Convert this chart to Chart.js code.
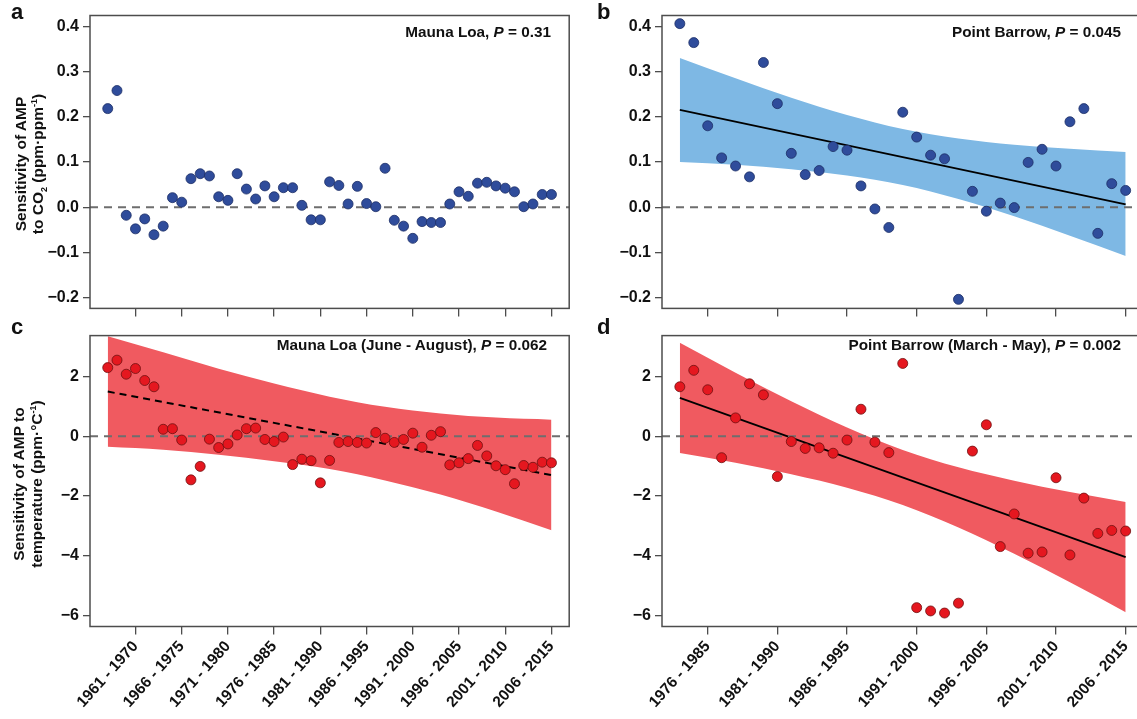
<!DOCTYPE html>
<html>
<head>
<meta charset="utf-8">
<script src="https://cdn.jsdelivr.net/npm/chart.js@4.4.1/dist/chart.umd.min.js"></script>
<style>
  html, body { margin: 0; padding: 0; background: #fff; overflow: hidden; width: 1137px; height: 719px; }
  body { position: relative; font-family: Arial, "Liberation Sans", Helvetica, sans-serif; color: #111; }
  canvas { position: absolute; }
  .letter { position: absolute; font-weight: bold; font-size: 22px; line-height: 1; }
  .note { position: absolute; font-weight: bold; font-size: 15.3px; line-height: 1; white-space: nowrap; transform: translateX(-100%); }
  .ytitle { position: absolute; font-weight: bold; font-size: 15.5px; line-height: 17px; text-align: center; white-space: nowrap;
            transform: translate(-50%, -50%) rotate(-90deg); }
  .ytitle sub, .ytitle sup { font-size: 9px; line-height: 0; }
</style>
</head>
<body>
<canvas id="panelA" width="575" height="322" style="left:0;top:0"></canvas>
<canvas id="panelB" width="575" height="322" style="left:575px;top:0"></canvas>
<canvas id="panelC" width="575" height="397" style="left:0;top:322px"></canvas>
<canvas id="panelD" width="575" height="397" style="left:575px;top:322px"></canvas>

<div class="letter" style="left:11px;top:1px">a</div>
<div class="letter" style="left:597px;top:1px">b</div>
<div class="letter" style="left:11px;top:316px">c</div>
<div class="letter" style="left:597px;top:316px">d</div>

<div class="note" style="left:551px;top:23.5px">Mauna Loa, <i>P</i> = 0.31</div>
<div class="note" style="left:1121px;top:23.5px">Point Barrow, <i>P</i> = 0.045</div>
<div class="note" style="left:547px;top:336.5px">Mauna Loa (June - August), <i>P</i> = 0.062</div>
<div class="note" style="left:1121px;top:336.5px">Point Barrow (March - May), <i>P</i> = 0.002</div>

<div class="ytitle" style="left:29px;top:164px">Sensitivity of AMP<br>to CO<sub>2</sub> (ppm·ppm<sup>-1</sup>)</div>
<div class="ytitle" style="left:28px;top:484px;line-height:18px">Sensitivity of AMP to<br>temperature (ppm·°C<sup>-1</sup>)</div>

<script>
// ------------------------------------------------------------------
// Data (10-year moving windows, x = last year of the window)
// ------------------------------------------------------------------
const yearsMLO = [1967, 1968, 1969, 1970, 1971, 1972, 1973, 1974, 1975, 1976, 1977, 1978, 1979, 1980, 1981, 1982, 1983,
  1984, 1985, 1986, 1987, 1988, 1989, 1990, 1991, 1992, 1993, 1994, 1995, 1996, 1997, 1998, 1999, 2000, 2001, 2002,
  2003, 2004, 2005, 2006, 2007, 2008, 2009, 2010, 2011, 2012, 2013, 2014, 2015];
const yearsBRW = [1983, 1984, 1985, 1986, 1987, 1988, 1989, 1990, 1991, 1992, 1993, 1994, 1995, 1996, 1997, 1998, 1999,
  2000, 2001, 2002, 2003, 2004, 2005, 2006, 2007, 2008, 2009, 2010, 2011, 2012, 2013, 2014, 2015];

// a: Mauna Loa, sensitivity to CO2
const sensCO2MLO = [0.218, 0.258, -0.018, -0.048, -0.026, -0.061, -0.042, 0.021, 0.011, 0.063, 0.074, 0.069, 0.023,
  0.015, 0.074, 0.040, 0.018, 0.047, 0.023, 0.043, 0.043, 0.004, -0.028, -0.028, 0.056, 0.048, 0.007, 0.046, 0.008,
  0.001, 0.086, -0.029, -0.042, -0.069, -0.032, -0.034, -0.034, 0.007, 0.034, 0.024, 0.053, 0.055, 0.047, 0.042,
  0.034, 0.001, 0.007, 0.028, 0.028];

// b: Point Barrow, sensitivity to CO2
const sensCO2BRW = [0.406, 0.364, 0.180, 0.109, 0.091, 0.067, 0.320, 0.229, 0.119, 0.072, 0.081, 0.134, 0.126, 0.047,
  -0.004, -0.045, 0.210, 0.155, 0.115, 0.107, -0.204, 0.035, -0.009, 0.009, -0.001, 0.099, 0.128, 0.091, 0.189,
  0.218, -0.058, 0.052, 0.037];

// c: Mauna Loa (June - August), sensitivity to temperature
const sensTempMLO = [2.29, 2.54, 2.07, 2.26, 1.86, 1.65, 0.23, 0.25, -0.13, -1.46, -1.01, -0.10, -0.38, -0.26, 0.04,
  0.25, 0.27, -0.11, -0.18, -0.03, -0.95, -0.77, -0.82, -1.56, -0.81, -0.21, -0.18, -0.21, -0.23, 0.12, -0.07, -0.21,
  -0.11, 0.10, -0.37, 0.03, 0.15, -0.96, -0.89, -0.75, -0.31, -0.66, -0.99, -1.12, -1.59, -0.98, -1.04, -0.87, -0.89];

// d: Point Barrow (March - May), sensitivity to temperature
const sensTempBRW = [1.65, 2.20, 1.55, -0.72, 0.61, 1.75, 1.38, -1.35, -0.18, -0.41, -0.39, -0.57, -0.13, 0.90, -0.20,
  -0.55, 2.43, -5.73, -5.84, -5.91, -5.58, -0.50, 0.38, -3.69, -2.60, -3.91, -3.87, -1.39, -3.97, -2.07, -3.25,
  -3.15, -3.17];

// regression lines and confidence bands
const fitYearsMLO = [1967, 2015];
const fitTempMLO = [1.49, -1.30];
const fitYearsBRW = [1983, 2015];
const fitCO2BRW = [0.215, 0.006];
const fitTempBRW = [1.28, -4.04];

const bandYearsMLO = [1967, 1973, 1979, 1985, 1991, 1997, 2003, 2009, 2015];
const bandUpperTempMLO = [3.34, 2.80, 2.25, 1.76, 1.32, 0.98, 0.76, 0.62, 0.55];
const bandLowerTempMLO = [-0.35, -0.45, -0.62, -0.84, -1.10, -1.48, -1.95, -2.52, -3.14];

const bandYearsBRW = [1983, 1987, 1991, 1995, 1999, 2003, 2007, 2011, 2015];
const bandUpperCO2BRW = [0.330, 0.285, 0.242, 0.204, 0.173, 0.152, 0.138, 0.129, 0.122];
const bandLowerCO2BRW = [0.100, 0.094, 0.084, 0.070, 0.049, 0.018, -0.020, -0.063, -0.108];
const bandUpperTempBRW = [3.12, 2.12, 1.17, 0.29, -0.46, -1.04, -1.49, -1.87, -2.20];
const bandLowerTempBRW = [-0.56, -0.89, -1.27, -1.72, -2.30, -3.05, -3.93, -4.88, -5.88];

// axes
const tickYearsMLO = [1970, 1975, 1980, 1985, 1990, 1995, 2000, 2005, 2010, 2015];
const tickLabelsMLO = ['1961 - 1970', '1966 - 1975', '1971 - 1980', '1976 - 1985', '1981 - 1990',
  '1986 - 1995', '1991 - 2000', '1996 - 2005', '2001 - 2010', '2006 - 2015'];
const tickYearsBRW = [1985, 1990, 1995, 2000, 2005, 2010, 2015];
const tickLabelsBRW = ['1976 - 1985', '1981 - 1990', '1986 - 1995', '1991 - 2000', '1996 - 2005',
  '2001 - 2010', '2006 - 2015'];
const yTicksCO2 = [-0.2, -0.1, 0.0, 0.1, 0.2, 0.3, 0.4];
const yTickLabelsCO2 = ['\u22120.2', '\u22120.1', '0.0', '0.1', '0.2', '0.3', '0.4'];
const yTicksTemp = [-6, -4, -2, 0, 2];
const yTickLabelsTemp = ['\u22126', '\u22124', '\u22122', '0', '2'];

const xRangeMLO = [1965.08, 2016.92];
const xRangeBRW = [1981.72, 2016.28];
const yRangeCO2 = [-0.224, 0.424];
const yRangeTemp = [-6.36, 3.36];

// ------------------------------------------------------------------
// Styling
// ------------------------------------------------------------------
const FONT = 'Arial, "Liberation Sans", Helvetica, sans-serif';
const AXIS_GREY = '#4d4d4d';
const BLUE_PT = '#2f4c9b', BLUE_EDGE = '#1d2f66', BLUE_BAND = '#7eb8e4';
const RED_PT = '#e5171f', RED_EDGE = '#6e1010', RED_BAND = '#f05a60';

const xy = (xs, ys) => xs.map((x, i) => ({ x, y: ys[i] }));

// box around the plotting area + dashed zero reference
const framePlugin = {
  id: 'frame',
  beforeDatasetDraw(chart, args) {
    if (chart.data.datasets[args.index].label !== 'pts') return;
    const { ctx, chartArea } = chart;
    const y0 = chart.scales.y.getPixelForValue(0);
    ctx.save();
    ctx.strokeStyle = '#6e6e6e';
    ctx.lineWidth = 2;
    ctx.setLineDash([8, 6]);
    ctx.beginPath();
    ctx.moveTo(chartArea.left, y0);
    ctx.lineTo(chartArea.right, y0);
    ctx.stroke();
    ctx.restore();
  },
  afterDraw(chart) {
    const { ctx, chartArea } = chart;
    ctx.save();
    ctx.strokeStyle = AXIS_GREY;
    ctx.lineWidth = 1.5;
    ctx.strokeRect(chartArea.left, chartArea.top, chartArea.right - chartArea.left, chartArea.bottom - chartArea.top);
    ctx.restore();
  },
};

function makePanel(id, cfg) {
  const datasets = [];
  if (cfg.bandUpper) {
    datasets.push({
      type: 'line', label: 'upper', data: xy(cfg.bandYears, cfg.bandUpper),
      borderColor: 'rgba(0,0,0,0)', borderWidth: 1, pointRadius: 0, cubicInterpolationMode: 'monotone',
      backgroundColor: cfg.bandColor, fill: '+1', order: 3,
    });
    datasets.push({
      type: 'line', label: 'lower', data: xy(cfg.bandYears, cfg.bandLower),
      borderColor: 'rgba(0,0,0,0)', borderWidth: 1, pointRadius: 0, cubicInterpolationMode: 'monotone',
      fill: false, order: 3,
    });
  }
  if (cfg.fit) {
    datasets.push({
      type: 'line', label: 'fit', data: xy(cfg.fitYears, cfg.fit),
      borderColor: '#000', borderWidth: cfg.fitDash ? 2 : 1.8, borderDash: cfg.fitDash || [],
      pointRadius: 0, fill: false, order: 1,
    });
  }
  datasets.push({
    type: 'scatter', label: 'pts', data: xy(cfg.years, cfg.values),
    pointRadius: 5, pointHoverRadius: 5, pointBorderWidth: 0.8,
    pointBackgroundColor: cfg.ptColor, pointBorderColor: cfg.ptEdge, order: 0,
  });

  return new Chart(document.getElementById(id), {
    type: 'scatter',
    data: { datasets },
    options: {
      responsive: false,
      animation: false,
      events: [],
      layout: { padding: cfg.padding },
      plugins: { legend: { display: false }, tooltip: { enabled: false } },
      scales: {
        x: {
          type: 'linear', min: cfg.xRange[0], max: cfg.xRange[1],
          afterBuildTicks: s => { s.ticks = cfg.xTicks.map(v => ({ value: v })); },
          afterFit: s => { s.height = cfg.xHeight; },
          border: { display: false },
          grid: { drawOnChartArea: false, drawTicks: true, tickLength: 8, color: AXIS_GREY, lineWidth: 1.3 },
          ticks: {
            display: cfg.xLabels !== null, autoSkip: false, minRotation: 48, maxRotation: 48, padding: 3,
            color: '#111', font: { family: FONT, size: 15.5, weight: 'bold' },
            callback: (v, i) => (cfg.xLabels ? cfg.xLabels[i] : ''),
          },
        },
        y: {
          min: cfg.yRange[0], max: cfg.yRange[1],
          afterBuildTicks: s => { s.ticks = cfg.yTicks.map(v => ({ value: v })); },
          afterFit: s => { s.width = cfg.yWidth; },
          border: { display: false },
          grid: { drawOnChartArea: false, drawTicks: true, tickLength: 7, color: AXIS_GREY, lineWidth: 1.3 },
          ticks: {
            padding: 4, color: '#111', font: { family: FONT, size: 16, weight: 'bold' },
            callback: (v, i) => cfg.yLabels[i],
          },
        },
      },
    },
    plugins: [framePlugin],
  });
}

makePanel('panelA', {
  years: yearsMLO, values: sensCO2MLO, ptColor: BLUE_PT, ptEdge: BLUE_EDGE,
  xRange: xRangeMLO, xTicks: tickYearsMLO, xLabels: null,
  yRange: yRangeCO2, yTicks: yTicksCO2, yLabels: yTickLabelsCO2,
  yWidth: 90, xHeight: 10, padding: { top: 15.5, right: 4.5, left: 0, bottom: 0 },
});

makePanel('panelB', {
  years: yearsBRW, values: sensCO2BRW, ptColor: BLUE_PT, ptEdge: BLUE_EDGE,
  fitYears: fitYearsBRW, fit: fitCO2BRW,
  bandYears: bandYearsBRW, bandUpper: bandUpperCO2BRW, bandLower: bandLowerCO2BRW, bandColor: BLUE_BAND,
  xRange: xRangeBRW, xTicks: tickYearsBRW, xLabels: null,
  yRange: yRangeCO2, yTicks: yTicksCO2, yLabels: yTickLabelsCO2,
  yWidth: 87, xHeight: 10, padding: { top: 15.5, right: 6.5, left: 0, bottom: 0 },
});

makePanel('panelC', {
  years: yearsMLO, values: sensTempMLO, ptColor: RED_PT, ptEdge: RED_EDGE,
  fitYears: fitYearsMLO, fit: fitTempMLO, fitDash: [7, 5],
  bandYears: bandYearsMLO, bandUpper: bandUpperTempMLO, bandLower: bandLowerTempMLO, bandColor: RED_BAND,
  xRange: xRangeMLO, xTicks: tickYearsMLO, xLabels: tickLabelsMLO,
  yRange: yRangeTemp, yTicks: yTicksTemp, yLabels: yTickLabelsTemp,
  yWidth: 90, xHeight: 92.5, padding: { top: 9, right: 4.5, left: 0, bottom: 0 },
});

makePanel('panelD', {
  years: yearsBRW, values: sensTempBRW, ptColor: RED_PT, ptEdge: RED_EDGE,
  fitYears: fitYearsBRW, fit: fitTempBRW,
  bandYears: bandYearsBRW, bandUpper: bandUpperTempBRW, bandLower: bandLowerTempBRW, bandColor: RED_BAND,
  xRange: xRangeBRW, xTicks: tickYearsBRW, xLabels: tickLabelsBRW,
  yRange: yRangeTemp, yTicks: yTicksTemp, yLabels: yTickLabelsTemp,
  yWidth: 87, xHeight: 92.5, padding: { top: 9, right: 6.5, left: 0, bottom: 0 },
});
</script>
</body>
</html>
